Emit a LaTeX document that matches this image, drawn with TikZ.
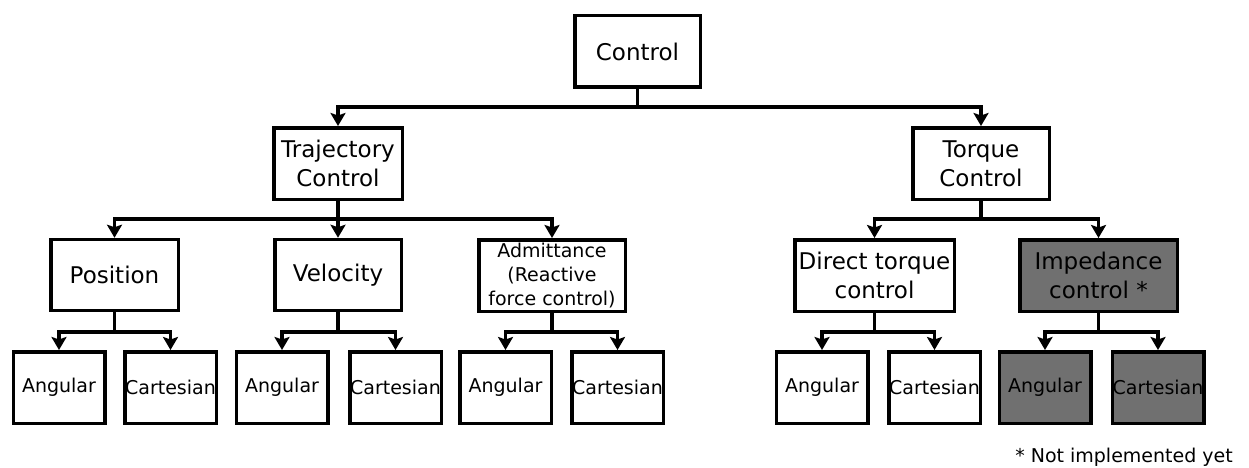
\documentclass[tikz,border=0pt]{standalone}
\usepackage{fontspec}
\setmainfont{DejaVu Sans}
\usetikzlibrary{arrows.meta}
\definecolor{boxgray}{RGB}{112,112,112}
\tikzset{
  box/.style={draw=black, line width=3.5pt, rectangle, inner sep=0pt, align=center,
    font=\fontsize{23}{29}\selectfont},
  leaf/.style={box, minimum width=91.5pt, minimum height=71.5pt, font=\fontsize{19}{24}\selectfont},
  grayfill/.style={fill=boxgray},
  conn/.style={line width=3.5pt, -{Stealth[length=13pt,width=15pt,inset=2.5pt]}},
  note/.style={font=\fontsize{19}{24}\selectfont, inner sep=0pt}
}
\begin{document}
\begin{tikzpicture}[x=1pt,y=-1pt]
\useasboundingbox (0,0) rectangle (1249,468);
% level 0
\node[box, minimum width=125.5pt, minimum height=71.5pt] (control) at (637.5,51.5) {Control};
% level 1
\node[box, minimum width=128.5pt, minimum height=71.5pt] (traj) at (338,163.5) {Trajectory\\Control};
\node[box, minimum width=136.5pt, minimum height=71.5pt] (torque) at (981,163.5) {Torque\\Control};
% level 2
\node[box, minimum width=127.5pt, minimum height=71pt] (pos) at (114.5,275) {Position};
\node[box, minimum width=126.5pt, minimum height=71pt] (vel) at (338,275) {Velocity};
\node[box, minimum width=146.5pt, minimum height=71.5pt, font=\fontsize{19}{24}\selectfont] (adm) at (552,275.5) {Admittance\\(Reactive\\force control)};
\node[box, minimum width=159.5pt, minimum height=71.5pt] (direct) at (874.5,275.5) {Direct torque\\control};
\node[box, grayfill, minimum width=157.5pt, minimum height=71.5pt] (imp) at (1098.5,275.5) {Impedance\\control *};
% level 3
\node[leaf] (pa) at (59,387.5) {Angular};
\node[leaf] (pc) at (170.5,387.5) {Cartesian};
\node[leaf] (va) at (282,387.5) {Angular};
\node[leaf] (vc) at (395.5,387.5) {Cartesian};
\node[leaf] (aa) at (505.5,387.5) {Angular};
\node[leaf] (ac) at (617.5,387.5) {Cartesian};
\node[leaf] (da) at (822,387.5) {Angular};
\node[leaf] (dc) at (934.5,387.5) {Cartesian};
\node[leaf, grayfill] (ia) at (1045,387.5) {Angular};
\node[leaf, grayfill] (ic) at (1158,387.5) {Cartesian};
% bar levels
\coordinate (b1) at (0,107);
\coordinate (b2) at (0,219);
\coordinate (b3) at (0,332);
% connectors
\foreach \p/\c/\b in {control/traj/b1, control/torque/b1,
  traj/pos/b2, traj/vel/b2, traj/adm/b2, torque/direct/b2, torque/imp/b2,
  pos/pa/b3, pos/pc/b3, vel/va/b3, vel/vc/b3, adm/aa/b3, adm/ac/b3,
  direct/da/b3, direct/dc/b3, imp/ia/b3, imp/ic/b3}
  \draw[conn] (\p.south) -- (\p.south |- \b) -- (\b -| \c.north) -- (\c.north);
% footnote
\node[note, anchor=east] (fn) at (1233,457) {* Not implemented yet};
\end{tikzpicture}
\end{document}
